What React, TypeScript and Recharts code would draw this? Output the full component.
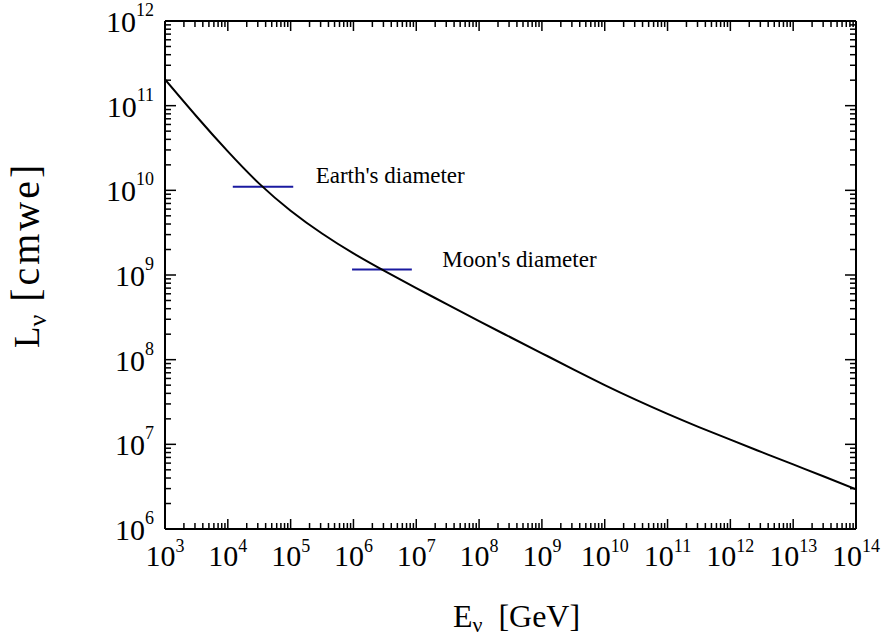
import React from "react";
import {
  LineChart,
  Line,
  XAxis,
  YAxis,
  ReferenceLine,
  ReferenceDot,
} from "recharts";

// neutrino interaction length vs energy, sampled every half decade
const energies = [
  1e3, 3.16e3, 1e4, 3.16e4, 1e5, 3.16e5, 1e6, 3.16e6, 1e7, 3.16e7, 1e8,
  3.16e8, 1e9, 3.16e9, 1e10, 3.16e10, 1e11, 3.16e11, 1e12, 3.16e12, 1e13,
  3.16e13, 1e14,
];
const lengths = [
  2.04e11, 7.5e10, 2.88e10, 1.2e10, 5.75e9, 3.09e9, 1.8e9, 1.11e9, 7.0e8,
  4.47e8, 2.85e8, 1.84e8, 1.19e8, 7.67e7, 5.01e7, 3.35e7, 2.29e7, 1.6e7,
  1.135e7, 8.09e6, 5.79e6, 4.14e6, 2.95e6,
];

const xDecades = [3, 4, 5, 6, 7, 8, 9, 10, 11, 12, 13, 14];
const yDecades = [6, 7, 8, 9, 10, 11, 12];

// reference diameters in cmwe, with the energy span of each marker bar
const earthSpan = [1.2e4, 1.1e5];
const earthDepth = 1.1e10;
const earthLabelAt = [2.5e5, 1.5e10];
const moonSpan = [9.5e5, 8.5e6];
const moonDepth = 1.16e9;
const moonLabelAt = [2.6e7, 1.55e9];

const W = 883;
const H = 636;
const margin = { top: 21, right: 27, bottom: 7, left: 5 };
const Y_AXIS_W = 160;
const X_AXIS_H = 100;
const plotW = W - margin.left - margin.right - Y_AXIS_W;
const plotH = H - margin.top - margin.bottom - X_AXIS_H;

const serif = "'Liberation Serif', 'Times New Roman', serif";
const barColor = "#1a1aa0";

const logTicks = (decades: number[]) => {
  const out: number[] = [];
  decades.forEach((d, i) => {
    out.push(Math.pow(10, d));
    if (i < decades.length - 1) {
      for (let k = 2; k <= 9; k++) out.push(k * Math.pow(10, d));
    }
  });
  return out;
};

const xTicks = logTicks(xDecades);
const yTicks = logTicks(yDecades);

const data = energies.map((E, i) => ({ E, L: lengths[i] }));

const isMajor = (v: number) => {
  const e = Math.log10(v);
  return Math.abs(e - Math.round(e)) < 1e-6;
};

function XTick(props: any) {
  const { x, y, payload } = props;
  const v = payload.value as number;
  const major = isMajor(v);
  const len = major ? 10 : 6;
  return (
    <g>
      <line x1={x} y1={y} x2={x} y2={y - len} stroke="#000" strokeWidth={1.5} />
      <line
        x1={x}
        y1={y - plotH}
        x2={x}
        y2={y - plotH + len}
        stroke="#000"
        strokeWidth={1.5}
      />
      {major && (
        <text x={x} y={y + 37} textAnchor="middle" fontFamily={serif} fill="#000">
          <tspan fontSize={30}>10</tspan>
          <tspan fontSize={18} dy={-14}>
            {Math.round(Math.log10(v))}
          </tspan>
        </text>
      )}
    </g>
  );
}

function YTick(props: any) {
  const { x, y, payload } = props;
  const v = payload.value as number;
  const major = isMajor(v);
  const len = major ? 11 : 6;
  return (
    <g>
      <line x1={x} y1={y} x2={x + len} y2={y} stroke="#000" strokeWidth={1.5} />
      <line
        x1={x + plotW}
        y1={y}
        x2={x + plotW - len}
        y2={y}
        stroke="#000"
        strokeWidth={1.5}
      />
      {major && (
        <text x={x - 11} y={y + 11} textAnchor="end" fontFamily={serif} fill="#000">
          <tspan fontSize={30}>10</tspan>
          <tspan fontSize={18} dy={-16}>
            {Math.round(Math.log10(v))}
          </tspan>
        </text>
      )}
    </g>
  );
}

const xTitle = () => (
  <text
    x={margin.left + Y_AXIS_W + plotW / 2 + 6}
    y={627}
    textAnchor="middle"
    fontFamily={serif}
    fontSize={32}
    fill="#000"
  >
    E
    <tspan fontSize={22} dy={5}>
      ν
    </tspan>
    <tspan dy={-5}>{"\u00A0\u00A0[GeV]"}</tspan>
  </text>
);

// reads bottom-to-top, starting just above the x tick labels
const yTitle = () => (
  <text
    x={39}
    y={348}
    transform="rotate(-90, 39, 348)"
    textAnchor="start"
    fontFamily={serif}
    fontSize={40}
    fill="#000"
  >
    <tspan fontSize={35}>L</tspan>
    <tspan fontSize={26} dy={7}>
      ν
    </tspan>
    <tspan dy={-7} letterSpacing={3}>
      {"\u00A0[cmwe]"}
    </tspan>
  </text>
);

const note = (text: string) => (p: any) => (
  <text x={p.cx} y={p.cy + 8} fontFamily={serif} fontSize={23} fill="#000">
    {text}
  </text>
);

export default function App() {
  return (
    <div style={{ position: "absolute", left: 0, top: 0, width: W, height: H, background: "#fff" }}>
      <LineChart width={W} height={H} data={data} margin={margin}>
        <XAxis
          dataKey="E"
          type="number"
          scale="log"
          domain={[1e3, 1e14]}
          allowDataOverflow
          ticks={xTicks}
          interval={0}
          tick={XTick}
          tickLine={false}
          tickSize={0}
          tickMargin={0}
          height={X_AXIS_H}
          axisLine={{ stroke: "#000", strokeWidth: 2 }}
          label={{ content: xTitle }}
        />
        <YAxis
          type="number"
          scale="log"
          domain={[1e6, 1e12]}
          allowDataOverflow
          ticks={yTicks}
          interval={0}
          tick={YTick}
          tickLine={false}
          tickSize={0}
          tickMargin={0}
          width={Y_AXIS_W}
          axisLine={{ stroke: "#000", strokeWidth: 2 }}
          label={{ content: yTitle }}
        />
        <ReferenceLine y={1e12} stroke="#000" strokeWidth={2} />
        <ReferenceLine x={1e14} stroke="#000" strokeWidth={2} />
        <ReferenceLine
          segment={[
            { x: earthSpan[0], y: earthDepth },
            { x: earthSpan[1], y: earthDepth },
          ]}
          stroke={barColor}
          strokeWidth={2}
        />
        <ReferenceLine
          segment={[
            { x: moonSpan[0], y: moonDepth },
            { x: moonSpan[1], y: moonDepth },
          ]}
          stroke={barColor}
          strokeWidth={2}
        />
        <ReferenceDot
          x={earthLabelAt[0]}
          y={earthLabelAt[1]}
          r={0}
          shape={note("Earth's diameter")}
        />
        <ReferenceDot
          x={moonLabelAt[0]}
          y={moonLabelAt[1]}
          r={0}
          shape={note("Moon's diameter")}
        />
        <Line
          dataKey="L"
          type="natural"
          stroke="#000"
          strokeWidth={2}
          dot={false}
          isAnimationActive={false}
        />
      </LineChart>
    </div>
  );
}
